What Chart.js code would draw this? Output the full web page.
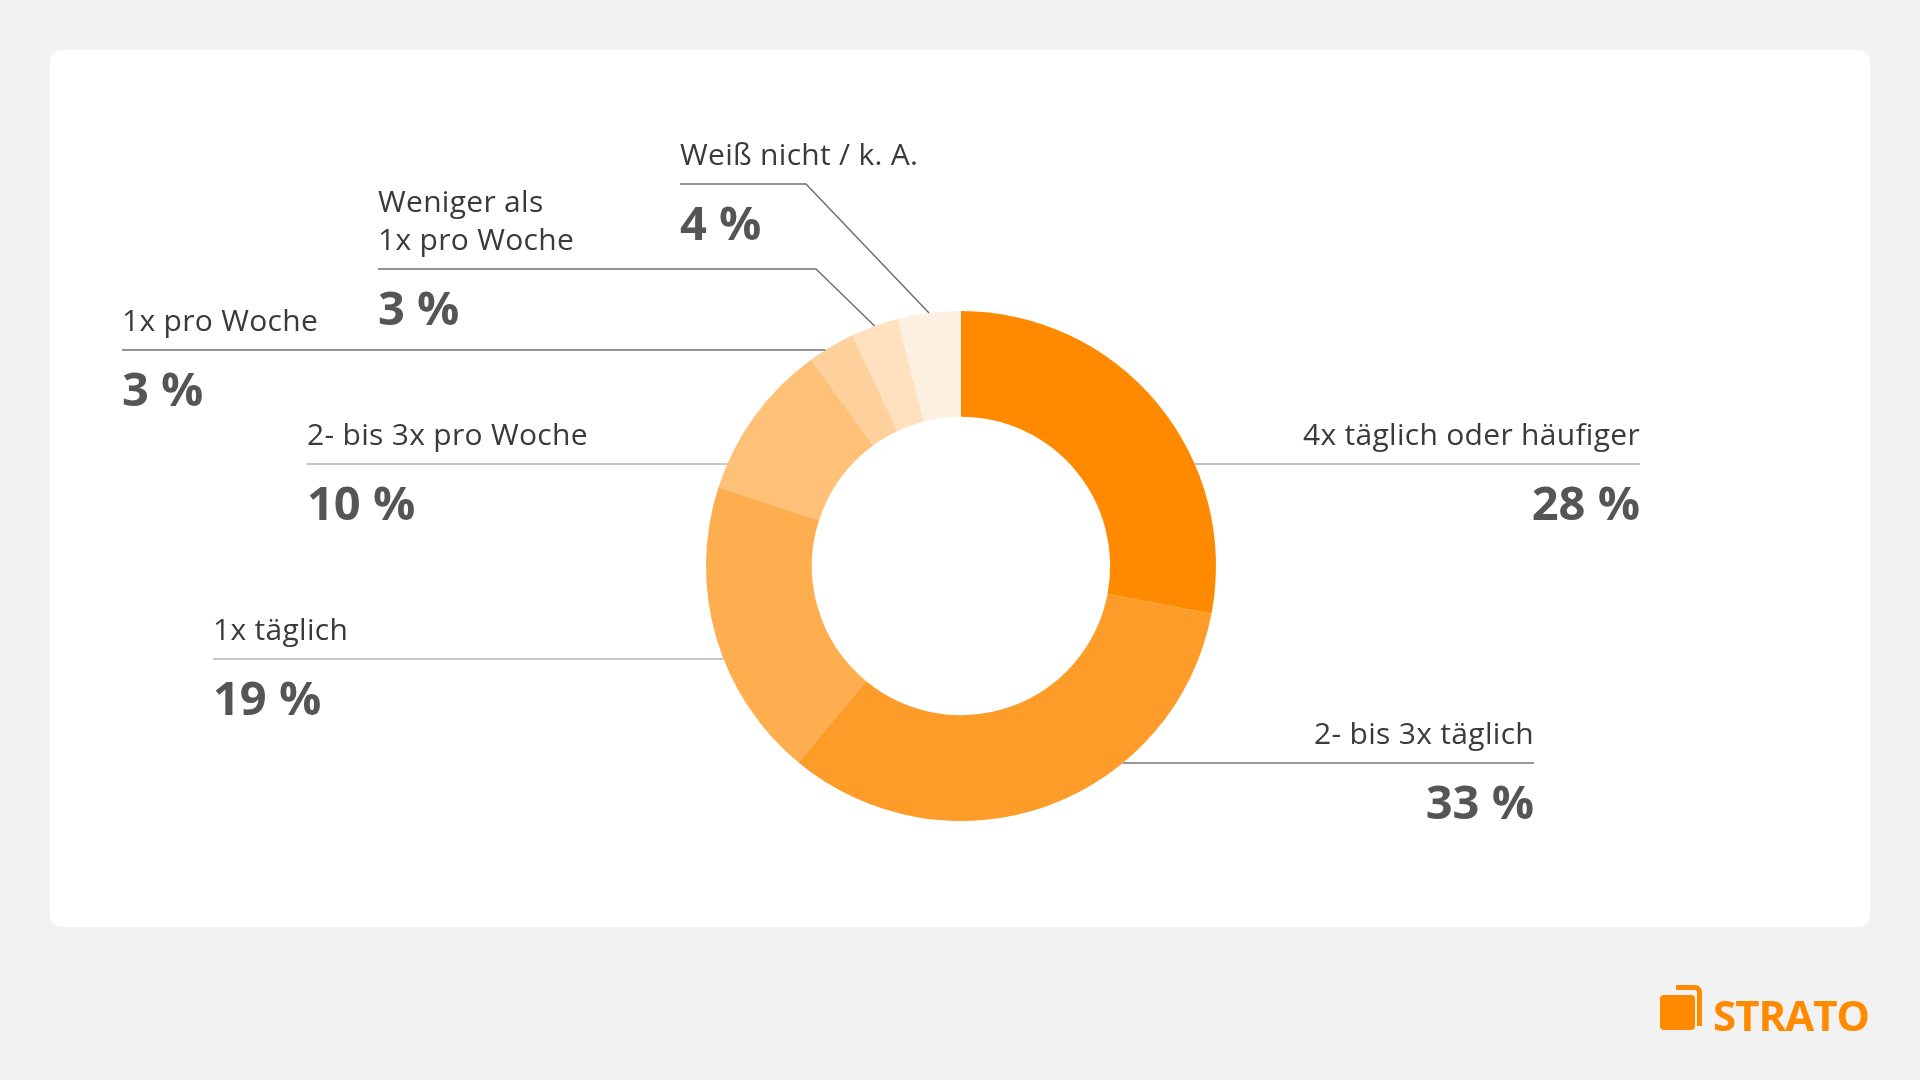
<!DOCTYPE html>
<html lang="de">
<head>
<meta charset="utf-8">
<title>Nutzungshäufigkeit</title>
<script src="https://cdn.jsdelivr.net/npm/chart.js@4.4.1/dist/chart.umd.min.js"></script>
<style>
  html, body { margin: 0; padding: 0; }
  body {
    width: 1920px; height: 1080px; position: relative; overflow: hidden;
    background: #f2f2f2; font-family: 'Open Sans', sans-serif;
  }
  #card {
    position: absolute; left: 50px; top: 50px; width: 1820px; height: 877px;
    background: #fff; border-radius: 12px;
  }
  #usageChart { position: absolute; left: 0; top: 0; }
  .logo-box {
    position: absolute; left: 1660px; top: 995px; width: 35px; height: 35px;
    background: #ff8a00; border-radius: 4px;
  }
  .logo-bracket {
    position: absolute; left: 1676px; top: 985px; width: 21px; height: 36px;
    border-top: 5px solid #ff8a00; border-right: 5px solid #ff8a00;
    border-top-right-radius: 7px;
  }
  .logo-text {
    position: absolute; left: 1713px; top: 994px; line-height: 42px;
    font-size: 42px; font-weight: 700; color: #ff8a00; letter-spacing: -1px;
  }
</style>
</head>
<body>
<div id="card"></div>
<canvas id="usageChart" width="1920" height="1080"></canvas>
<div class="logo-bracket"></div>
<div class="logo-box"></div>
<div class="logo-text">STRATO</div>

<script>
// data, clockwise from 12 o'clock
const categories = [
    ['4x täglich oder häufiger'],
    ['2- bis 3x täglich'],
    ['1x täglich'],
    ['2- bis 3x pro Woche'],
    ['1x pro Woche'],
    ['Weniger als', '1x pro Woche'],
    ['Weiß nicht / k. A.']
];
const shares = [28, 33, 19, 10, 3, 3, 4];

const sliceColors = ['#ff8a00', '#fd9c29', '#feae4e', '#ffc077', '#fed09c', '#ffe1c0', '#fef0e0'];

// where each label sits; the leader line runs from the text to the ring
const labelLayout = [
    { x: 1640, lineY: 464, align: 'right', lineColor: '#a3adb9' },
    { x: 1534, lineY: 763, align: 'right', lineColor: '#747474' },
    { x: 213, lineY: 659, align: 'left', lineColor: '#b5b5b5' },
    { x: 307, lineY: 464, align: 'left', lineColor: '#b5b5b5' },
    { x: 122, lineY: 350, align: 'left', lineColor: '#6f6f6f' },
    { x: 378, lineY: 269, align: 'left', lineColor: '#6f6f6f', elbowX: 816 },
    { x: 680, lineY: 184, align: 'left', lineColor: '#6f6f6f', elbowX: 806 }
];

const calloutPlugin = {
    id: 'callouts',
    afterDatasetsDraw(chart) {
        const ctx = chart.ctx;
        const arcs = chart.getDatasetMeta(0).data;
        ctx.save();
        arcs.forEach(function (arc, i) {
            const lay = labelLayout[i];
            const r = arc.outerRadius;

            // leader line
            ctx.strokeStyle = lay.lineColor;
            ctx.lineWidth = 1.5;
            ctx.beginPath();
            if (lay.elbowX) {
                const mid = (arc.startAngle + arc.endAngle) / 2;
                ctx.moveTo(lay.x, lay.lineY);
                ctx.lineTo(lay.elbowX, lay.lineY);
                ctx.lineTo(arc.x + Math.cos(mid) * r, arc.y + Math.sin(mid) * r);
            } else {
                const dy = lay.lineY - arc.y;
                const dx = Math.sqrt(Math.max(r * r - dy * dy, 0));
                const edgeX = lay.align === 'right' ? arc.x + dx : arc.x - dx;
                ctx.moveTo(lay.x, lay.lineY);
                ctx.lineTo(edgeX, lay.lineY);
            }
            ctx.stroke();

            // category text above the line
            ctx.textAlign = lay.align;
            ctx.textBaseline = 'alphabetic';
            ctx.fillStyle = '#3a3a3a';
            ctx.font = '400 30px "Open Sans"';
            ctx.letterSpacing = '0.3px';
            const lines = categories[i];
            lines.forEach(function (txt, k) {
                const back = lines.length - 1 - k;
                ctx.fillText(txt, lay.x, lay.lineY - 19 - back * 38);
            });

            // share below the line
            ctx.letterSpacing = '0px';
            ctx.fillStyle = '#555555';
            ctx.font = '700 47px "Open Sans"';
            ctx.fillText(shares[i] + ' %', lay.x, lay.lineY + 56);
        });
        ctx.restore();
    }
};

let usageCanvas = document.getElementById('usageChart');
let usageChart = new Chart(usageCanvas, {
    type: 'doughnut',
    data: {
        labels: categories.map(function (c) { return c.join(' '); }),
        datasets: [{
            data: shares,
            backgroundColor: sliceColors,
            borderWidth: 0
        }]
    },
    options: {
        responsive: false,
        devicePixelRatio: 1,
        animation: false,
        cutout: '58.5%',
        rotation: 0,
        layout: {
            padding: { left: 706, right: 704, top: 311, bottom: 259 }
        },
        plugins: {
            legend: { display: false },
            tooltip: { enabled: false }
        },
        events: []
    },
    plugins: [calloutPlugin]
});
</script>
</body>
</html>
